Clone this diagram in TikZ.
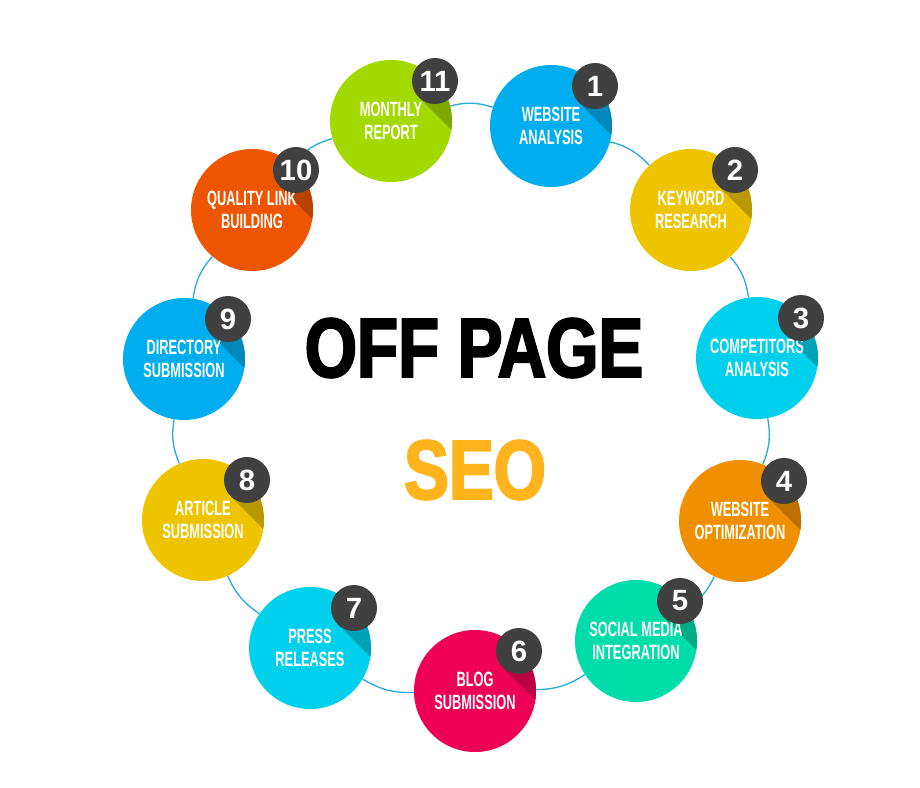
\documentclass[tikz,border=0pt]{standalone}
\usepackage{fontspec}
\setmainfont{Liberation Sans}
\newfontfamily\labelfont{Liberation Sans}[FakeStretch=0.62]
\newfontfamily\titlefont{Liberation Sans}[FakeStretch=0.8,FakeBold=2.5]
\usetikzlibrary{calc,backgrounds}
\definecolor{seoblue}{HTML}{00AEEF}
\definecolor{seoyellow}{HTML}{EEC400}
\definecolor{seocyan}{HTML}{00D0EC}
\definecolor{seoorange}{HTML}{F09000}
\definecolor{seogreen}{HTML}{00DDAA}
\definecolor{seopink}{HTML}{EE0055}
\definecolor{seored}{HTML}{EE5500}
\definecolor{seolime}{HTML}{A2D900}
\definecolor{badgegray}{HTML}{404040}
\definecolor{ringblue}{HTML}{29AAE2}
\definecolor{titleorange}{HTML}{FFB41E}

\begin{document}
\begin{tikzpicture}[x=0.75pt,y=-0.75pt,
		step_node/.style={circle,fill=#1,minimum size=91.5pt,inner sep=0pt,align=center,text=white,
			font=\labelfont\bfseries\fontsize{15.5}{17.5}\selectfont,
			path picture={\fill[#1!78!black] ($(path picture bounding box.center)+(60.3,-56.3)$) -- ++(100,100)
				-- ($(path picture bounding box.center)+(127.7,76.3)$) -- ($(path picture bounding box.center)+(27.7,-23.7)$) -- cycle;}},
		badge_node/.style={circle,fill=badgegray,minimum size=34.5pt,inner sep=0pt,text=white,
			font=\bfseries\fontsize{22}{22}\selectfont},
		title_node/.style={inner sep=0pt,font=\titlefont\bfseries\fontsize{63}{63}\selectfont},
		ring_line/.style={draw=ringblue,line width=1pt}]
		
		\useasboundingbox (0,0) rectangle (920,788);
		
		\node[step_node=seoblue] (c1) at (551,126) {WEBSITE\\ANALYSIS};
		\node[badge_node] (n1) at ([shift={(44,-40)}]c1) {1};
		\node[step_node=seoyellow] (c2) at (691,210) {KEYWORD\\RESEARCH};
		\node[badge_node] (n2) at ([shift={(44,-40)}]c2) {2};
		\node[step_node=seocyan] (c3) at (757,358) {COMPETITORS\\ANALYSIS};
		\node[badge_node] (n3) at ([shift={(44,-40)}]c3) {3};
		\node[step_node=seoorange] (c4) at (740,521) {WEBSITE\\OPTIMIZATION};
		\node[badge_node] (n4) at ([shift={(44,-40)}]c4) {4};
		\node[step_node=seogreen] (c5) at (636,641) {SOCIAL MEDIA\\INTEGRATION};
		\node[badge_node] (n5) at ([shift={(44,-40)}]c5) {5};
		\node[step_node=seopink] (c6) at (475,691) {BLOG\\SUBMISSION};
		\node[badge_node] (n6) at ([shift={(44,-40)}]c6) {6};
		\node[step_node=seocyan] (c7) at (310,648) {PRESS\\RELEASES};
		\node[badge_node] (n7) at ([shift={(44,-40)}]c7) {7};
		\node[step_node=seoyellow] (c8) at (203,520) {ARTICLE\\SUBMISSION};
		\node[badge_node] (n8) at ([shift={(44,-40)}]c8) {8};
		\node[step_node=seoblue] (c9) at (184,359) {DIRECTORY\\SUBMISSION};
		\node[badge_node] (n9) at ([shift={(44,-40)}]c9) {9};
		\node[step_node=seored] (c10) at (252,210) {QUALITY LINK\\BUILDING};
		\node[badge_node] (n10) at ([shift={(44,-40)}]c10) {10};
		\node[step_node=seolime] (c11) at (391,121) {MONTHLY\\REPORT};
		\node[badge_node] (n11) at ([shift={(44,-40)}]c11) {11};
		
		\node[title_node] (offpage) at (474,348) {OFF PAGE};
		\node[title_node,text=titleorange] (seo) at (475,470) {SEO};
		
		\begin{scope}[on background layer]
		\draw[ring_line] (c1) to[bend left=16] (c2);
		\draw[ring_line] (c2) to[bend left=16] (c3);
		\draw[ring_line] (c3) to[bend left=16] (c4);
		\draw[ring_line] (c4) to[bend left=16] (c5);
		\draw[ring_line] (c5) to[bend left=16] (c6);
		\draw[ring_line] (c6) to[bend left=16] (c7);
		\draw[ring_line] (c7) to[bend left=16] (c8);
		\draw[ring_line] (c8) to[bend left=16] (c9);
		\draw[ring_line] (c9) to[bend left=16] (c10);
		\draw[ring_line] (c10) to[bend left=16] (c11);
		\draw[ring_line] (c11) to[bend left=16] (c1);
		\end{scope}
		\end{tikzpicture}
\end{document}
